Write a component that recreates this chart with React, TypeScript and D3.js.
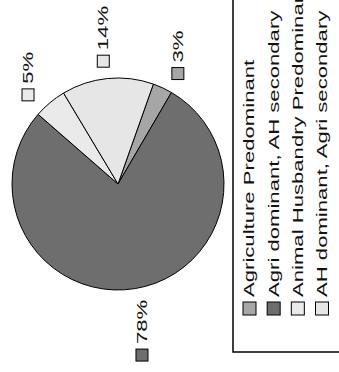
import * as d3 from "d3";
import { useEffect, useRef } from "react";

const categories = [
  "Agriculture Predominant",
  "Agri dominant, AH secondary",
  "Animal Husbandry Predominant",
  "AH dominant, Agri secondary",
];
const shares = [3, 78, 5, 14];
const shareLabels = ["3%", "78%", "5%", "14%"];
const fills = ["#a6a6a6", "#6e6e6e", "#eaeaea", "#e6e6e6"];

const W = 339;
const H = 372;
const FONT = "'Liberation Sans', Arial, sans-serif";
const SX = 1.58; // text looks stretched along its reading direction

export default function App() {
  const svgRef = useRef<SVGSVGElement | null>(null);

  useEffect(() => {
    const svg = d3.select(svgRef.current);
    svg.selectAll("*").remove();

    svg.append("rect").attr("width", W).attr("height", H).attr("fill", "#fff");

    // whole chart is drawn upright then turned a quarter turn to the left
    const g = svg.append("g").attr("transform", `translate(0,${H}) rotate(-90)`);

    const cx = 188;
    const cy = 118;
    const r = 106;
    const start = (109.5 * Math.PI) / 180;

    const pie = d3
      .pie<number>()
      .sort(null)
      .startAngle(start)
      .endAngle(start + 2 * Math.PI);
    const arcs = pie(shares);
    const arc = d3.arc<d3.PieArcDatum<number>>().innerRadius(0).outerRadius(r);

    const pieG = g.append("g").attr("transform", `translate(${cx},${cy})`);
    pieG
      .selectAll("path")
      .data(arcs)
      .join("path")
      .attr("d", arc)
      .attr("fill", (d, i) => fills[i])
      .attr("stroke", "#000")
      .attr("stroke-width", 1)
      .attr("stroke-linejoin", "round");

    // data labels: small swatch + percentage
    const sq = 12;
    const gap = 5;
    arcs.forEach((d, i) => {
      const mid = (d.startAngle + d.endAngle) / 2;
      const dx = Math.sin(mid);
      const dy = -Math.cos(mid);
      const lg = g.append("g");
      const t = lg
        .append("text")
        .attr("font-family", FONT)
        .attr("font-size", 14)
        .attr("dy", "0.35em")
        .attr("fill", "#111")
        .text(shareLabels[i]);
      const tw = (t.node() as SVGTextElement).getComputedTextLength() * SX;
      const w = sq + gap + tw;
      const h = 14;
      const dist = r + 11 + Math.abs(dx) * (w / 2) + Math.abs(dy) * (h / 2);
      const bx = cx + dx * dist - w / 2;
      const by = cy + dy * dist;
      lg.append("rect")
        .attr("x", bx)
        .attr("y", by - sq / 2)
        .attr("width", sq)
        .attr("height", sq)
        .attr("fill", fills[i])
        .attr("stroke", "#000")
        .attr("stroke-width", 1);
      t.attr("transform", `translate(${bx + sq + gap},${by}) scale(${SX},1)`);
    });

    // legend
    const legX = 20;
    const legY = 233;
    g.append("rect")
      .attr("x", legX)
      .attr("y", legY)
      .attr("width", 400)
      .attr("height", 200)
      .attr("fill", "#fff")
      .attr("stroke", "#000")
      .attr("stroke-width", 1.5);

    const rowY = d3
      .scalePoint<string>()
      .domain(categories)
      .range([249.5, 322]);

    const items = g
      .selectAll("g.leg")
      .data(categories)
      .join("g")
      .attr("class", "leg")
      .attr("transform", (d) => `translate(0,${rowY(d)})`);

    items
      .append("rect")
      .attr("x", 57)
      .attr("y", -6.5)
      .attr("width", 13)
      .attr("height", 13)
      .attr("fill", (d, i) => fills[i])
      .attr("stroke", "#000")
      .attr("stroke-width", 1);

    items
      .append("text")
      .attr("transform", `translate(75,0) scale(${SX},1)`)
      .attr("dy", "0.35em")
      .attr("font-family", FONT)
      .attr("font-size", 14)
      .attr("fill", "#111")
      .text((d) => d);
  }, []);

  return (
    <svg
      ref={svgRef}
      width={W}
      height={H}
      style={{ position: "absolute", left: 0, top: 0, display: "block" }}
    />
  );
}
